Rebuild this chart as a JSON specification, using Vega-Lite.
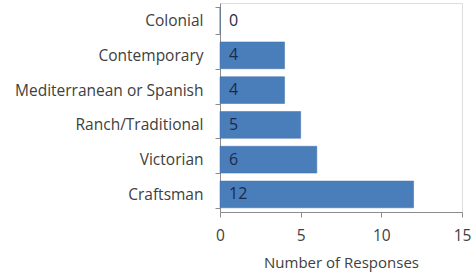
{
  "$schema": "https://vega.github.io/schema/vega-lite/v6.json",
  "autosize": {"type": "none"},
  "width": 242,
  "height": 209,
  "padding": {"left": 220, "top": 3, "right": 12, "bottom": 61},
  "background": "white",
  "data": {"values": [
    {"style": "Colonial", "count": 0},
    {"style": "Contemporary", "count": 4},
    {"style": "Mediterranean or Spanish", "count": 4},
    {"style": "Ranch/Traditional", "count": 5},
    {"style": "Victorian", "count": 6},
    {"style": "Craftsman", "count": 12}
  ]},
  "encoding": {
    "y": {
      "field": "style", "type": "nominal", "sort": null,
      "scale": {"paddingInner": 0.23, "paddingOuter": 0.12},
      "axis": {
        "title": null, "tickBand": "extent", "domainColor": "#8c8c8c", "tickColor": "#8c8c8c",
        "tickSize": 5, "labelFont": "Open Sans", "labelFontSize": 15.5, "labelColor": "#404040",
        "labelPadding": 12, "labelLimit": 400
      }
    }
  },
  "layer": [
    {
      "mark": {"type": "bar", "color": "#4a7ebb", "stroke": "#3e6ea8", "strokeWidth": 0.5},
      "encoding": {
        "x": {
          "field": "count", "type": "quantitative",
          "scale": {"domain": [0, 15], "nice": false},
          "axis": {
            "values": [0, 5, 10, 15], "grid": false, "title": "Number of Responses",
            "labelFlush": false,
            "domainColor": "#8c8c8c", "tickColor": "#8c8c8c", "tickSize": 5,
            "labelFont": "Open Sans", "labelFontSize": 15.5, "labelColor": "#404040", "labelPadding": 11,
            "titleFont": "Open Sans", "titleFontSize": 15, "titleColor": "#404040", "titleFontWeight": "normal",
            "titlePadding": 12
          }
        }
      }
    },
    {
      "mark": {"type": "text", "align": "left", "dx": 9, "font": "Open Sans", "fontSize": 16, "color": "#1b2a4a"},
      "encoding": {
        "x": {"datum": 0},
        "text": {"field": "count", "type": "quantitative"}
      }
    }
  ]
}
